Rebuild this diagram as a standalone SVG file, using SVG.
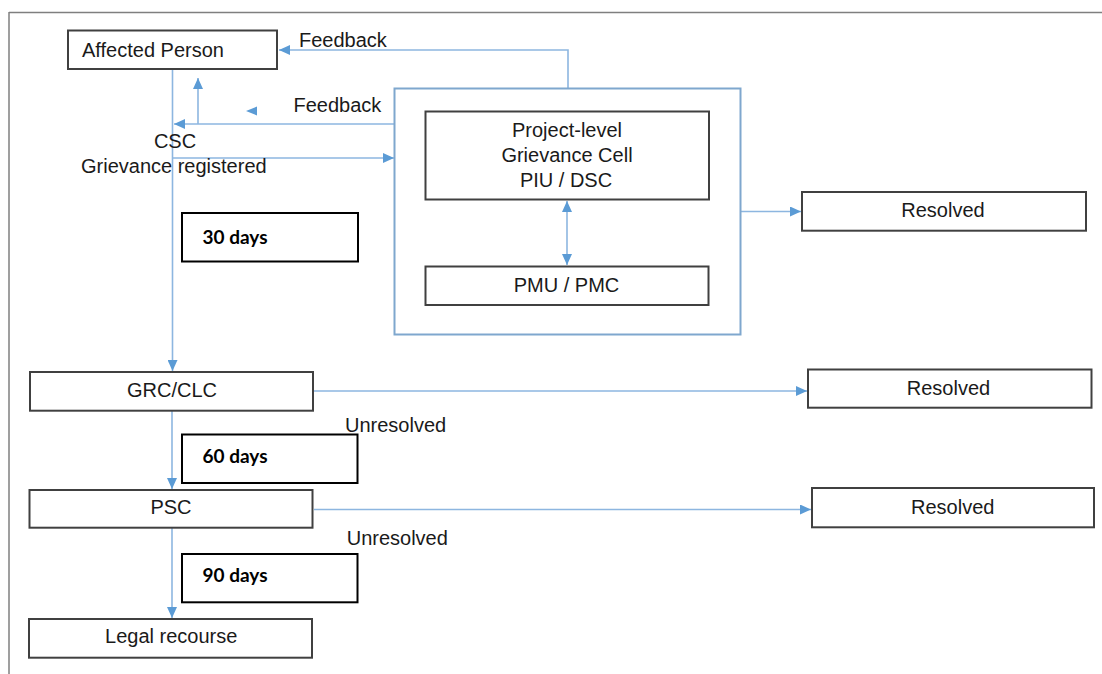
<svg xmlns="http://www.w3.org/2000/svg" width="1102" height="674" viewBox="0 0 1102 674">
<defs>
<style>
.box{fill:#fff;stroke:#404040;stroke-width:2}
.dbox{fill:#fff;stroke:#000;stroke-width:2}
.t{font-family:"Liberation Sans",Arial,sans-serif;font-size:20px;fill:#1a1a1a}
.c{text-anchor:middle}
.b{font-family:Lato,"Liberation Sans",sans-serif;font-weight:bold;font-size:19px;fill:#000}
.ln{fill:none;stroke:#8DB6E0;stroke-width:1.6}
.ah{fill:#5B9BD5}
</style>
<marker id="arr" markerUnits="userSpaceOnUse" markerWidth="12" markerHeight="10" viewBox="0 0 12 10" refX="11" refY="5" orient="auto">
<path d="M0,0 L11,5 L0,10 Z" fill="#5B9BD5"/>
</marker>
<marker id="arrs" markerUnits="userSpaceOnUse" markerWidth="12" markerHeight="10" viewBox="0 0 12 10" refX="1" refY="5" orient="auto">
<path d="M12,0 L1,5 L12,10 Z" fill="#5B9BD5"/>
</marker>
</defs>

<g id="frame">
<line x1="9" y1="12.5" x2="1102" y2="12.5" stroke="#7f7f7f" stroke-width="1.5"/>
<line x1="9" y1="12" x2="9" y2="674" stroke="#7f7f7f" stroke-width="1.5"/>
</g>

<g id="connectors">
<path class="ln" d="M568,88 V50 H279" marker-end="url(#arr)"/>
<path class="ln" d="M394,124 H174" marker-end="url(#arr)"/>
<path class="ln" d="M198,124 V78" marker-end="url(#arr)"/>
<polygon class="ah" points="246,111 257,106.5 257,115.5"/>
<path class="ln" d="M173,158 H394" marker-end="url(#arr)"/>
<path class="ln" d="M172.5,69 V371" marker-end="url(#arr)"/>
<path class="ln" d="M567,201 V265" marker-start="url(#arrs)" marker-end="url(#arr)"/>
<path class="ln" d="M741,211.5 H801" marker-end="url(#arr)"/>
<path class="ln" d="M314,391 H807" marker-end="url(#arr)"/>
<path class="ln" d="M172,411 V489" marker-end="url(#arr)"/>
<path class="ln" d="M314,509.5 H811" marker-end="url(#arr)"/>
<path class="ln" d="M172,528 V618" marker-end="url(#arr)"/>
</g>

<g id="affected-person">
<rect class="box" x="68" y="30.5" width="209" height="38.5"/>
<text class="t" x="82" y="57">Affected Person</text>
</g>
<g id="feedback-top"><text class="t" x="299" y="46.5">Feedback</text></g>
<g id="feedback-mid"><text class="t" x="293.5" y="112">Feedback</text></g>
<g id="csc">
<text class="t c" x="175" y="148">CSC</text>
<text class="t" x="81" y="172.5">Grievance registered</text>
</g>

<g id="project-frame">
<rect x="394.5" y="88.5" width="346" height="246" fill="none" stroke="#7FA7CE" stroke-width="2"/>
</g>
<g id="grievance-cell">
<rect class="box" x="425.5" y="111.5" width="283.5" height="88"/>
<text class="t c" x="567" y="137">Project-level</text>
<text class="t c" x="567" y="161.5">Grievance Cell</text>
<text class="t c" x="566" y="186.5">PIU / DSC</text>
</g>
<g id="pmu">
<rect class="box" x="425.5" y="266.5" width="283" height="38.5"/>
<text class="t c" x="566.5" y="291.5">PMU / PMC</text>
</g>
<g id="resolved-1">
<rect class="box" x="802" y="192" width="284" height="38.7"/>
<text class="t c" x="943" y="217.3">Resolved</text>
</g>

<g id="days-30">
<rect class="dbox" x="182" y="213" width="176" height="48.5"/>
<text class="b" x="202.5" y="244">30 days</text>
</g>

<g id="grc">
<rect class="box" x="30" y="372" width="283" height="38.7"/>
<text class="t c" x="172" y="397.3">GRC/CLC</text>
</g>
<g id="resolved-2">
<rect class="box" x="808" y="369.5" width="283.5" height="38.2"/>
<text class="t c" x="948.5" y="395">Resolved</text>
</g>
<g id="unresolved-1"><text class="t" x="345" y="431.7">Unresolved</text></g>
<g id="days-60">
<rect class="dbox" x="182" y="434.5" width="175.5" height="48.5"/>
<text class="b" x="202.5" y="463">60 days</text>
</g>

<g id="psc">
<rect class="box" x="29.5" y="490" width="283" height="37.7"/>
<text class="t c" x="171" y="514">PSC</text>
</g>
<g id="resolved-3">
<rect class="box" x="812" y="488" width="282" height="39.3"/>
<text class="t c" x="952.7" y="514">Resolved</text>
</g>
<g id="unresolved-2"><text class="t" x="346.7" y="545">Unresolved</text></g>
<g id="days-90">
<rect class="dbox" x="182" y="554" width="175.5" height="48.3"/>
<text class="b" x="202.5" y="582">90 days</text>
</g>

<g id="legal">
<rect class="box" x="29" y="619" width="283" height="38.7"/>
<text class="t c" x="171.2" y="643">Legal recourse</text>
</g>
</svg>
